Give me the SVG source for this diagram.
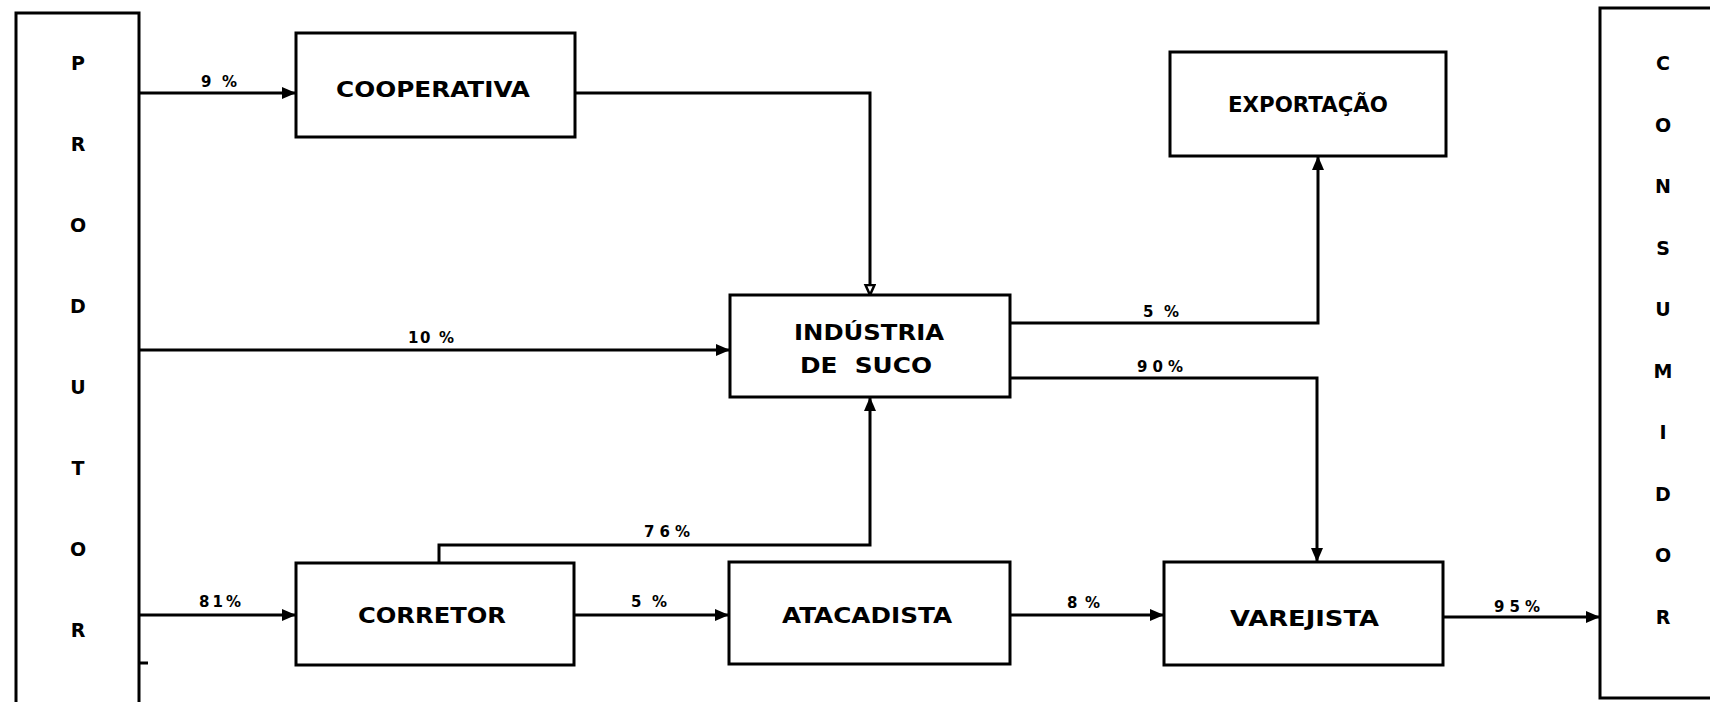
<svg xmlns="http://www.w3.org/2000/svg" width="1710" height="702" viewBox="0 0 1710 702">
<defs>
<style>
.box{fill:#fff;stroke:#000;stroke-width:3}
.ln{fill:none;stroke:#000;stroke-width:3}
.t{font-family:"DejaVu Sans","Liberation Sans",sans-serif;font-weight:bold;font-size:22px;fill:#000}
.v{font-family:"DejaVu Sans","Liberation Sans",sans-serif;font-weight:bold;font-size:19px;fill:#000;text-anchor:middle}
.p{font-family:"DejaVu Sans","Liberation Sans",sans-serif;font-weight:bold;font-size:15px;fill:#000}
</style>
<marker id="ar" markerUnits="userSpaceOnUse" markerWidth="16" markerHeight="14" refX="14" refY="7" orient="auto">
<path d="M0,1 L14,7 L0,13 Z" fill="#000"/>
</marker>
<marker id="ao" markerUnits="userSpaceOnUse" markerWidth="14" markerHeight="14" refX="11" refY="6" orient="auto">
<path d="M1,1.5 L11,6 L1,10.5 Z" fill="#fff" stroke="#000" stroke-width="2.5"/>
</marker>
</defs>
<rect width="1710" height="702" fill="#fff"/>

<g id="connectors">
<line class="ln" x1="140" y1="93" x2="296" y2="93" marker-end="url(#ar)"/>
<polyline class="ln" points="575,93 870,93 870,295" marker-end="url(#ao)"/>
<line class="ln" x1="140" y1="350" x2="730" y2="350" marker-end="url(#ar)"/>
<line class="ln" x1="140" y1="615" x2="296" y2="615" marker-end="url(#ar)"/>
<polyline class="ln" points="439,563 439,545 870,545 870,397" marker-end="url(#ar)"/>
<line class="ln" x1="574" y1="615" x2="729" y2="615" marker-end="url(#ar)"/>
<line class="ln" x1="1010" y1="615" x2="1164" y2="615" marker-end="url(#ar)"/>
<polyline class="ln" points="1010,323 1318,323 1318,156" marker-end="url(#ar)"/>
<polyline class="ln" points="1010,378 1317,378 1317,562" marker-end="url(#ar)"/>
<line class="ln" x1="1443" y1="617" x2="1600" y2="617" marker-end="url(#ar)"/>
<line class="ln" x1="139" y1="663" x2="148" y2="663"/>
<text class="p" x="201" y="87" textLength="36" lengthAdjust="spacing">9 %</text>
<text class="p" x="408" y="343" textLength="46" lengthAdjust="spacing">10 %</text>
<text class="p" x="199" y="607" textLength="42" lengthAdjust="spacing">81%</text>
<text class="p" x="631" y="607" textLength="36" lengthAdjust="spacing">5 %</text>
<text class="p" x="644" y="537" textLength="46" lengthAdjust="spacing">76%</text>
<text class="p" x="1067" y="608" textLength="33" lengthAdjust="spacing">8%</text>
<text class="p" x="1143" y="317" textLength="36" lengthAdjust="spacing">5%</text>
<text class="p" x="1137" y="372" textLength="46" lengthAdjust="spacing">90%</text>
<text class="p" x="1494" y="612" textLength="46" lengthAdjust="spacing">95%</text>
</g>

<g id="produtor">
<rect class="box" x="16" y="13" width="123" height="700"/>
<text class="v" x="78" y="70">P</text>
<text class="v" x="78" y="151">R</text>
<text class="v" x="78" y="232">O</text>
<text class="v" x="78" y="313">D</text>
<text class="v" x="78" y="394">U</text>
<text class="v" x="78" y="475">T</text>
<text class="v" x="78" y="556">O</text>
<text class="v" x="78" y="637">R</text>
</g>

<g id="cooperativa">
<rect class="box" x="296" y="33" width="279" height="104"/>
<text class="t" x="336" y="97" textLength="194" lengthAdjust="spacingAndGlyphs">COOPERATIVA</text>
</g>

<g id="exportacao">
<rect class="box" x="1170" y="52" width="276" height="104"/>
<text class="t" x="1228" y="112" textLength="160" lengthAdjust="spacingAndGlyphs">EXPORTAÇÃO</text>
</g>

<g id="industria">
<rect class="box" x="730" y="295" width="280" height="102"/>
<text class="t" x="794" y="340" textLength="150" lengthAdjust="spacingAndGlyphs">INDÚSTRIA</text>
<text class="t" x="800" y="373" textLength="132" lengthAdjust="spacingAndGlyphs" style="white-space:pre">DE  SUCO</text>
</g>

<g id="corretor">
<rect class="box" x="296" y="563" width="278" height="102"/>
<text class="t" x="358" y="623" textLength="148" lengthAdjust="spacingAndGlyphs">CORRETOR</text>
</g>

<g id="atacadista">
<rect class="box" x="729" y="562" width="281" height="102"/>
<text class="t" x="782" y="623" textLength="170" lengthAdjust="spacingAndGlyphs">ATACADISTA</text>
</g>

<g id="varejista">
<rect class="box" x="1164" y="562" width="279" height="103"/>
<text class="t" x="1230" y="626" textLength="149" lengthAdjust="spacingAndGlyphs">VAREJISTA</text>
</g>

<g id="consumidor">
<rect class="box" x="1600" y="8" width="130" height="690"/>
<text class="v" x="1663" y="70">C</text>
<text class="v" x="1663" y="132">O</text>
<text class="v" x="1663" y="193">N</text>
<text class="v" x="1663" y="255">S</text>
<text class="v" x="1663" y="316">U</text>
<text class="v" x="1663" y="378">M</text>
<text class="v" x="1663" y="439">I</text>
<text class="v" x="1663" y="501">D</text>
<text class="v" x="1663" y="562">O</text>
<text class="v" x="1663" y="624">R</text>
</g>
</svg>
